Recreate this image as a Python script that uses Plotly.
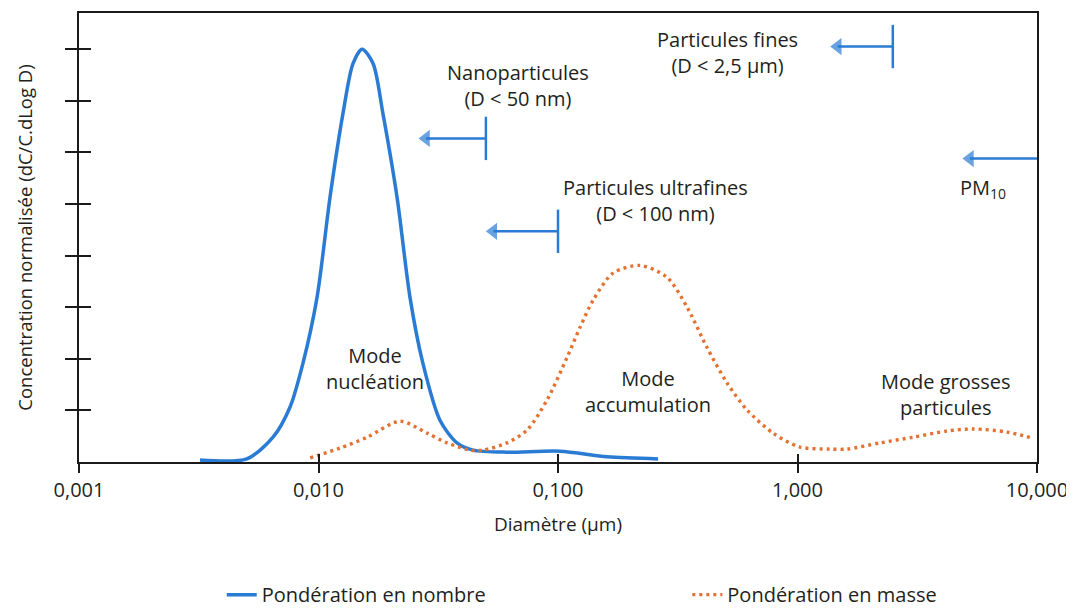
import math
import plotly.graph_objects as go

# ---------------- data ----------------
diam_nombre_um = [0.00320, 0.00502, 0.00646, 0.00760, 0.00861, 0.00986, 0.01117, 0.01265,
                  0.01393, 0.01521, 0.01690, 0.01858, 0.02128, 0.02410, 0.02729, 0.03214,
                  0.03785, 0.04416, 0.06124, 0.1019, 0.1604, 0.2618]
conc_nombre = [0.04, 0.06, 0.48, 1.06, 1.91, 3.19, 5.13, 6.75,
               7.72, 8.00, 7.72, 6.75, 5.13, 3.19, 1.91, 0.81,
               0.37, 0.23, 0.19, 0.21, 0.10, 0.06]

diam_masse_um = [0.00923, 0.01231, 0.01596, 0.02188, 0.02838, 0.03443, 0.04297, 0.04864,
                 0.06124, 0.07430, 0.08995, 0.1092, 0.1236, 0.1400, 0.1698, 0.2198,
                 0.2851, 0.3459, 0.4188, 0.5082, 0.6152, 0.7907, 1.023, 1.367,
                 1.610, 2.208, 3.034, 4.207, 5.405, 7.499, 9.616]
conc_masse = [0.08, 0.27, 0.48, 0.79, 0.56, 0.37, 0.23, 0.23,
              0.37, 0.62, 1.20, 2.03, 2.61, 3.13, 3.66, 3.81,
              3.58, 3.00, 2.22, 1.53, 1.01, 0.56, 0.29, 0.25,
              0.25, 0.37, 0.48, 0.60, 0.64, 0.58, 0.46]

x_tick_vals = [0.001, 0.01, 0.1, 1, 10]
x_tick_text = ["0,001", "0,010", "0,100", "1,000", "10,000"]
y_tick_vals = [1, 2, 3, 4, 5, 6, 7, 8]

seuils_um = [0.05, 0.1, 2.5, 10.0]          # Nanoparticules, ultrafines, fines, PM10
seuils_labels = ["Nanoparticules<br>(D < 50 nm)",
                 "Particules ultrafines<br>(D < 100 nm)",
                 "Particules fines<br>(D < 2,5 µm)",
                 "PM<sub>10</sub>"]
mode_labels = ["Mode<br>nucléation", "Mode<br>accumulation", "Mode grosses<br>particules"]

# ---------------- layout / style config ----------------
BLUE = "#2a7bd3"
ORANGE = "#e4712f"
TXT = "#231f20"
AX = "#1a1a1a"
FONT = "Open Sans"
FS = 20

arrow_y = [6.27, 4.47, 8.05, 5.88]          # vertical level of each arrow
arrow_len_dec = [0.25, 0.27, 0.23, 0.28]    # bar -> arrowhead centre, in decades
bar_half = 0.42                              # half height of threshold bars
show_bar = [True, True, True, False]
label_pos = [(-1.167, 7.29), (-0.595, 5.07), (-0.294, 7.93), (0.775, 5.30)]
mode_pos = [(-1.764, 1.82), (-0.624, 1.37), (0.620, 1.30)]

fig = go.Figure()

fig.add_trace(go.Scatter(
    x=diam_nombre_um, y=conc_nombre, mode="lines", name="Pondération en nombre",
    line=dict(color=BLUE, width=3.5, shape="spline", smoothing=0.8),
    legend="legend", hoverinfo="skip"))
fig.add_trace(go.Scatter(
    x=diam_masse_um, y=conc_masse, mode="lines", name="Pondération en masse",
    line=dict(color=ORANGE, width=3.4, dash="3px,4px", shape="spline", smoothing=0.8),
    legend="legend2", hoverinfo="skip"))

# threshold bars and arrows
for s, yv, L, show in zip(seuils_um, arrow_y, arrow_len_dec, show_bar):
    if show:
        fig.add_trace(go.Scatter(x=[s, s], y=[yv - bar_half, yv + bar_half], mode="lines",
                                 line=dict(color=BLUE, width=2.5), showlegend=False,
                                 hoverinfo="skip"))
    tip = 10 ** (math.log10(s) - L)
    fig.add_trace(go.Scatter(x=[s, tip], y=[yv, yv], mode="lines+markers",
                             line=dict(color=BLUE, width=2.5),
                             marker=dict(symbol="triangle-left", size=[0, 15], color=BLUE,
                                         line=dict(width=0)),
                             showlegend=False, hoverinfo="skip"))

# dummy trace for overlay axes (crossing ticks)
fig.add_trace(go.Scatter(x=[1], y=[1], xaxis="x2", yaxis="y2", mode="markers",
                         marker=dict(opacity=0), showlegend=False, hoverinfo="skip"))

annotations = []
for lab, (lx, ly) in zip(seuils_labels, label_pos):
    annotations.append(dict(x=lx, y=ly, xref="x", yref="y", text=lab, showarrow=False,
                            font=dict(family=FONT, size=FS, color=TXT), align="center"))
for lab, (lx, ly) in zip(mode_labels, mode_pos):
    annotations.append(dict(x=lx, y=ly, xref="x", yref="y", text=lab, showarrow=False,
                            font=dict(family=FONT, size=FS, color=TXT), align="center"))

axis_common = dict(showgrid=False, zeroline=False, showline=True, linecolor=AX,
                   linewidth=1.5, automargin=False)

fig.update_layout(
    width=1074, height=608,
    # the page body adds an 8 px offset, compensated here
    margin=dict(l=71, r=45, t=5, b=154, autoexpand=False),
    paper_bgcolor="white", plot_bgcolor="white",
    font=dict(family=FONT, size=FS, color=TXT),
    xaxis=dict(type="log", range=[-3, 1], tickmode="array", tickvals=x_tick_vals,
               ticktext=x_tick_text, ticks="outside", ticklen=9, tickwidth=1.5,
               tickcolor=AX, mirror=True,
               tickfont=dict(family=FONT, size=20, color=TXT),
               title=dict(text="Diamètre (µm)", font=dict(family=FONT, size=19, color=TXT),
                          standoff=16),
               **axis_common),
    yaxis=dict(range=[0, 8.7], tickmode="array", tickvals=y_tick_vals, showticklabels=False,
               ticks="outside", ticklen=12, tickwidth=1.5, tickcolor=AX, mirror=True,
               title=dict(text="Concentration normalisée (dC/C.dLog D)",
                          font=dict(family=FONT, size=18.5, color=TXT), standoff=28),
               **axis_common),
    xaxis2=dict(type="log", range=[-3, 1], overlaying="x", anchor="y2", side="bottom",
                tickmode="array", tickvals=x_tick_vals, showticklabels=False,
                ticks="inside", ticklen=8, tickwidth=1.5, tickcolor=AX,
                showgrid=False, zeroline=False, showline=False, automargin=False),
    yaxis2=dict(range=[0, 8.7], overlaying="y", anchor="x2", side="left",
                tickmode="array", tickvals=y_tick_vals, showticklabels=False,
                ticks="inside", ticklen=12, tickwidth=1.5, tickcolor=AX,
                showgrid=False, zeroline=False, showline=False, automargin=False),
    legend=dict(orientation="h", x=0.149, y=-0.252, xanchor="left", yanchor="top",
                font=dict(family=FONT, size=20, color=TXT), bgcolor="rgba(0,0,0,0)"),
    legend2=dict(orientation="h", x=0.635, y=-0.252, xanchor="left", yanchor="top",
                 font=dict(family=FONT, size=20, color=TXT), bgcolor="rgba(0,0,0,0)"),
    annotations=annotations,
    showlegend=True,
)

fig.write_html("out.html")
